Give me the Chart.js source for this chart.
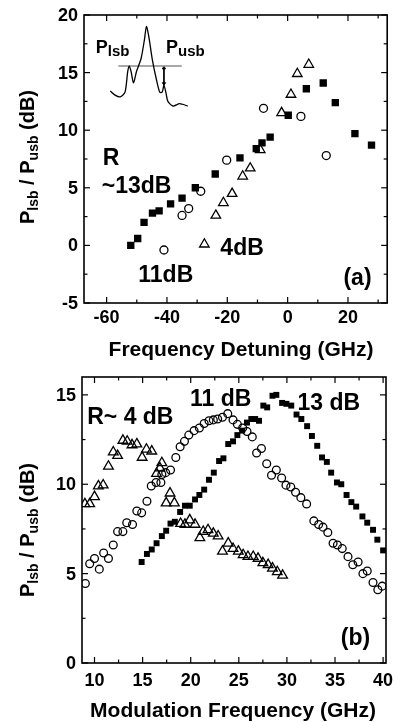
<!DOCTYPE html>
<html>
<head>
<meta charset="utf-8">
<script src="https://cdn.jsdelivr.net/npm/chart.js@4.4.1/dist/chart.umd.min.js"></script>
<style>
  html, body { margin: 0; padding: 0; background: #fff; }
  canvas { display: block; }
</style>
</head>
<body>
<canvas id="panelA" width="394" height="360"></canvas>
<canvas id="panelB" width="394" height="362"></canvas>
<script>
// ---- panel (a): sideband ratio vs frequency detuning ----
const detuning13 = [-52, -49.7, -47.6, -44.8, -42.6, -38.8, -35, -30.6, -24, -15.8, -10.4, -8.5, -5.8, 0.2, 6.2, 11.8, 15.8, 22.3, 27.8];
const ratioA13 = [0.0, 0.6, 2.0, 2.8, 3.0, 3.6, 4.1, 5.0, 6.2, 7.6, 8.4, 8.9, 9.4, 11.3, 13.6, 14.1, 12.4, 9.7, 8.7];
const detuning11 = [-41, -35, -32.8, -28.8, -20.2, -8, 4.4, 12.8];
const ratioA11 = [-0.4, 2.6, 3.2, 4.7, 7.4, 11.9, 11.2, 7.8];
const detuning4 = [-27.6, -23.8, -21.3, -18.4, -14.9, -12.4, -9.1, -2, 1.1, 3.2, 7.0];
const ratioA4 = [0.1, 2.6, 3.7, 4.5, 6.0, 6.7, 8.3, 11.5, 13.1, 14.9, 15.7];

// inset spectrum sketch (drawn in panel (a) units)
const insetX = [-58.8, -57.2, -55.5, -53.9, -53, -52.5, -51.9, -51.1, -50.1, -48.6, -47.5, -46.8, -46, -44.9, -43.5, -42.4, -41.6, -41, -40.3, -39.7, -38, -35.8, -33.1];
const insetY = [13.4, 13.05, 12.9, 13.3, 15.1, 15.57, 15.1, 14.1, 15.1, 16.2, 17.8, 19.0, 18.1, 16.2, 14.4, 13.3, 13.3, 13.9, 13.2, 12.5, 12.1, 12.3, 12.1];
const refLineX = [-56.1, -35.1];
const refLineY = [15.57, 15.57];
const arrowX = [-41, -41];
const arrowY = [15.4, 14.05];

const xTicksA = [-60, -40, -20, 0, 20];
const xMinorA = [-50, -30, -10, 10, 30];
const yTicksA = [-5, 0, 5, 10, 15, 20];
const yMinorA = [-2.5, 2.5, 7.5, 12.5, 17.5];

// ---- panel (b): sideband ratio vs modulation frequency ----
const modFreq4 = [9.0, 9.5, 10.0, 10.4, 10.9, 11.45, 11.95, 12.4, 12.95, 13.4, 13.9, 14.4, 14.95, 15.4, 15.95, 16.45, 16.8, 17.0, 17.45, 17.85, 18.3, 18.95, 19.4, 19.9, 20.45, 20.95, 21.3, 21.8, 22.35, 22.85, 23.3, 23.9, 24.4, 24.95, 25.45, 25.95, 26.5, 27.0, 27.5, 28.05, 28.5, 29.0, 29.55];
const ratioB4 = [8.9, 8.9, 9.3, 9.9, 9.95, 11.0, 11.8, 11.6, 12.45, 12.4, 12.2, 12.25, 11.5, 11.95, 11.85, 10.6, 10.9, 11.2, 8.95, 9.5, 8.95, 7.8, 7.75, 8.0, 7.75, 7.0, 7.35, 7.45, 7.25, 7.1, 6.25, 6.7, 6.4, 6.25, 6.05, 5.95, 5.95, 5.85, 5.6, 5.5, 5.3, 5.1, 4.9];
const modFreq11 = [9.05, 9.5, 10.0, 10.5, 10.95, 11.45, 11.95, 12.4, 12.95, 13.35, 13.95, 14.4, 14.9, 15.45, 15.9, 16.4, 16.9, 17.0, 17.4, 17.9, 18.45, 18.9, 19.35, 19.8, 20.35, 20.9, 21.4, 21.9, 22.35, 22.8, 23.3, 23.85, 24.4, 24.85, 25.4, 25.85, 26.4, 26.85, 27.35, 27.9, 28.4, 28.9, 29.45, 29.9, 30.4, 30.9, 31.45, 32.05, 32.8, 33.3, 33.75, 34.25, 34.8, 35.25, 35.75, 36.35, 36.85, 37.4, 37.9, 38.35, 38.95, 39.45, 39.9];
const ratioB11 = [4.45, 5.55, 5.85, 5.25, 6.15, 5.85, 6.6, 7.35, 7.35, 7.85, 7.75, 8.5, 8.4, 9.05, 9.9, 10.1, 10.1, 10.55, 10.65, 10.8, 11.5, 12.1, 12.4, 12.75, 13.0, 13.15, 13.4, 13.55, 13.6, 13.65, 13.75, 13.95, 13.6, 13.35, 13.15, 12.95, 12.65, 11.75, 12.0, 11.15, 10.5, 10.8, 10.35, 9.95, 9.85, 9.55, 9.25, 8.9, 7.95, 7.75, 7.6, 7.3, 6.7, 6.6, 6.4, 5.95, 5.5, 5.65, 5.0, 5.15, 4.5, 4.1, 4.3];
const modFreq13 = [14.9, 15.45, 15.95, 16.45, 17.0, 17.45, 17.9, 18.35, 18.9, 19.4, 19.9, 20.45, 20.9, 21.4, 21.9, 22.4, 22.95, 23.4, 23.9, 24.4, 24.85, 25.35, 25.85, 26.3, 26.7, 27.1, 27.55, 27.95, 28.5, 28.9, 29.5, 29.95, 30.45, 31.0, 31.5, 32.1, 32.6, 33.15, 33.65, 34.15, 34.6, 35.2, 35.65, 36.2, 36.7, 37.2, 37.85, 38.35, 38.95, 39.4, 40.0];
const ratioB13 = [5.65, 6.1, 6.35, 6.7, 7.1, 7.4, 7.8, 7.9, 8.45, 8.8, 8.8, 9.15, 9.4, 9.7, 10.25, 10.65, 11.3, 11.45, 12.25, 12.4, 12.75, 13.0, 13.45, 13.65, 13.65, 13.55, 14.4, 14.3, 14.95, 15.0, 14.55, 14.5, 14.4, 13.9, 13.65, 13.25, 12.7, 12.15, 11.5, 11.25, 10.65, 10.1, 10.0, 9.4, 9.0, 8.75, 8.2, 7.85, 7.45, 6.9, 6.3];

const xTicksB = [10, 15, 20, 25, 30, 35, 40];
const xMinorB = [12.5, 17.5, 22.5, 27.5, 32.5, 37.5];
const yTicksB = [0, 5, 10, 15];
const yMinorB = [2.5, 7.5, 12.5];

const FONT = '"Liberation Sans", Arial, sans-serif';
const pts = (xs, ys) => xs.map((x, i) => ({x: x, y: ys[i]}));

// draw a run of text pieces (main / subscript), left-aligned or centred at x
function richText(ctx, parts, x, y, align) {
  let total = 0;
  parts.forEach(p => { ctx.font = 'bold ' + p[1] + 'px ' + FONT; total += ctx.measureText(p[0]).width; });
  let cx = align === 'center' ? x - total / 2 : x;
  ctx.textAlign = 'left';
  ctx.textBaseline = 'alphabetic';
  parts.forEach(p => {
    ctx.font = 'bold ' + p[1] + 'px ' + FONT;
    ctx.fillText(p[0], cx, y + (p[2] || 0));
    cx += ctx.measureText(p[0]).width;
  });
}

// frame with inward ticks on all sides, labels, titles and annotations
const framePlugin = {
  id: 'frame',
  afterDatasetsDraw(chart, args, o) {
    const ctx = chart.ctx, a = chart.chartArea;
    const xs = chart.scales.x, ys = chart.scales.y;
    ctx.save();
    ctx.strokeStyle = '#000';
    ctx.fillStyle = '#000';
    ctx.lineWidth = 1.6;
    ctx.strokeRect(a.left, a.top, a.right - a.left, a.bottom - a.top);
    ctx.lineWidth = 1.2;
    const seg = (x1, y1, x2, y2) => { ctx.beginPath(); ctx.moveTo(x1, y1); ctx.lineTo(x2, y2); ctx.stroke(); };
    const xt = (v, len) => { const p = xs.getPixelForValue(v); seg(p, a.bottom, p, a.bottom - len); seg(p, a.top, p, a.top + len); };
    const yt = (v, len) => { const p = ys.getPixelForValue(v); seg(a.left, p, a.left + len, p); seg(a.right, p, a.right - len, p); };
    o.xMajor.forEach(v => xt(v, 6));
    o.xMinor.forEach(v => xt(v, 3.5));
    o.yMajor.forEach(v => yt(v, 6));
    o.yMinor.forEach(v => yt(v, 3.5));

    ctx.font = 'bold 18px ' + FONT;
    ctx.textAlign = 'center';
    ctx.textBaseline = 'alphabetic';
    o.xMajor.forEach(v => ctx.fillText(String(v), xs.getPixelForValue(v), a.bottom + o.xLabelGap));
    ctx.textAlign = 'right';
    ctx.textBaseline = 'middle';
    o.yMajor.forEach(v => ctx.fillText(String(v), a.left - 6, ys.getPixelForValue(v) + 1));

    // x title
    richText(ctx, [[o.xTitle, 21]], o.xTitleX, a.bottom + o.xTitleGap, 'center');
    // y title, rotated
    ctx.save();
    ctx.translate(34, o.yTitleY);
    ctx.rotate(-Math.PI / 2);
    richText(ctx, [['P', 20], ['lsb', 14, 4], [' / P', 20], ['usb', 14, 4], [' (dB)', 20]], 0, 0, 'center');
    ctx.restore();

    // annotations at data positions
    o.notes.forEach(n => {
      richText(ctx, n.parts, xs.getPixelForValue(n.x), ys.getPixelForValue(n.y), 'left');
    });
    ctx.restore();
  }
};

const baseOptions = (pad, xr, yr, frame) => ({
  responsive: false,
  animation: false,
  devicePixelRatio: 1,
  layout: { padding: pad },
  scales: {
    x: { type: 'linear', display: false, min: xr[0], max: xr[1] },
    y: { type: 'linear', display: false, min: yr[0], max: yr[1] }
  },
  plugins: { legend: { display: false }, tooltip: { enabled: false }, frame: frame }
});

new Chart(document.getElementById('panelA'), {
  type: 'scatter',
  data: {
    datasets: [
      { data: pts(insetX, insetY), type: 'line', showLine: true, pointRadius: 0, borderColor: '#000', borderWidth: 1.3, tension: 0.25 },
      { data: pts(refLineX, refLineY), type: 'line', showLine: true, pointRadius: 0, borderColor: '#8a8a8a', borderWidth: 1.6 },
      { data: pts(arrowX, arrowY), type: 'line', showLine: true, pointStyle: 'triangle', pointRadius: 1.8, pointRotation: [0, 180], borderColor: '#000', backgroundColor: '#000', borderWidth: 1 },
      { data: pts(detuning13, ratioA13), pointStyle: 'rect', pointRadius: 5.2, backgroundColor: '#000', borderColor: '#000', borderWidth: 0 },
      { data: pts(detuning11, ratioA11), pointStyle: 'circle', pointRadius: 4, backgroundColor: 'rgba(255,255,255,0)', borderColor: '#000', borderWidth: 1.3 },
      { data: pts(detuning4, ratioA4), pointStyle: 'triangle', pointRadius: 5.5, backgroundColor: 'rgba(255,255,255,0)', borderColor: '#000', borderWidth: 1.3 }
    ]
  },
  options: baseOptions({ left: 84, right: 2, top: 15, bottom: 57 }, [-67.5, 33], [-5, 20], {
    xMajor: xTicksA, xMinor: xMinorA, yMajor: yTicksA, yMinor: yMinorA,
    xLabelGap: 20, xTitle: 'Frequency Detuning (GHz)', xTitleX: 241, xTitleGap: 53, yTitleY: 157,
    notes: [
      { x: -61.3, y: 7.0, parts: [['R', 23]] },
      { x: -61.6, y: 4.55, parts: [['~13dB', 23]] },
      { x: -49.5, y: -3.2, parts: [['11dB', 23]] },
      { x: -22.3, y: -0.85, parts: [['4dB', 23]] },
      { x: 18.5, y: -3.4, parts: [['(a)', 23]] },
      { x: -63.6, y: 16.7, parts: [['P', 18], ['lsb', 15, 3]] },
      { x: -40.3, y: 16.7, parts: [['P', 18], ['usb', 15, 3]] }
    ]
  }),
  plugins: [framePlugin]
});

new Chart(document.getElementById('panelB'), {
  type: 'scatter',
  data: {
    datasets: [
      { data: pts(modFreq13, ratioB13), pointStyle: 'rect', pointRadius: 4.2, backgroundColor: '#000', borderColor: '#000', borderWidth: 0 },
      { data: pts(modFreq11, ratioB11), pointStyle: 'circle', pointRadius: 3.9, backgroundColor: 'rgba(255,255,255,0)', borderColor: '#000', borderWidth: 1.3 },
      { data: pts(modFreq4, ratioB4), pointStyle: 'triangle', pointRadius: 5.6, backgroundColor: 'rgba(255,255,255,0)', borderColor: '#000', borderWidth: 1.3 }
    ]
  },
  options: baseOptions({ left: 82, right: 8, top: 17, bottom: 59 }, [8.7, 40.3], [0, 16], {
    xMajor: xTicksB, xMinor: xMinorB, yMajor: yTicksB, yMinor: yMinorB,
    xLabelGap: 23, xTitle: 'Modulation Frequency (GHz)', xTitleX: 233, xTitleGap: 54, yTitleY: 170,
    notes: [
      { x: 9.24, y: 13.35, parts: [['R~ 4 dB', 23]] },
      { x: 19.93, y: 14.37, parts: [['11 dB', 23]] },
      { x: 31.1, y: 14.14, parts: [['13 dB', 23]] },
      { x: 35.6, y: 1.0, parts: [['(b)', 23]] }
    ]
  }),
  plugins: [framePlugin]
});
</script>
</body>
</html>
